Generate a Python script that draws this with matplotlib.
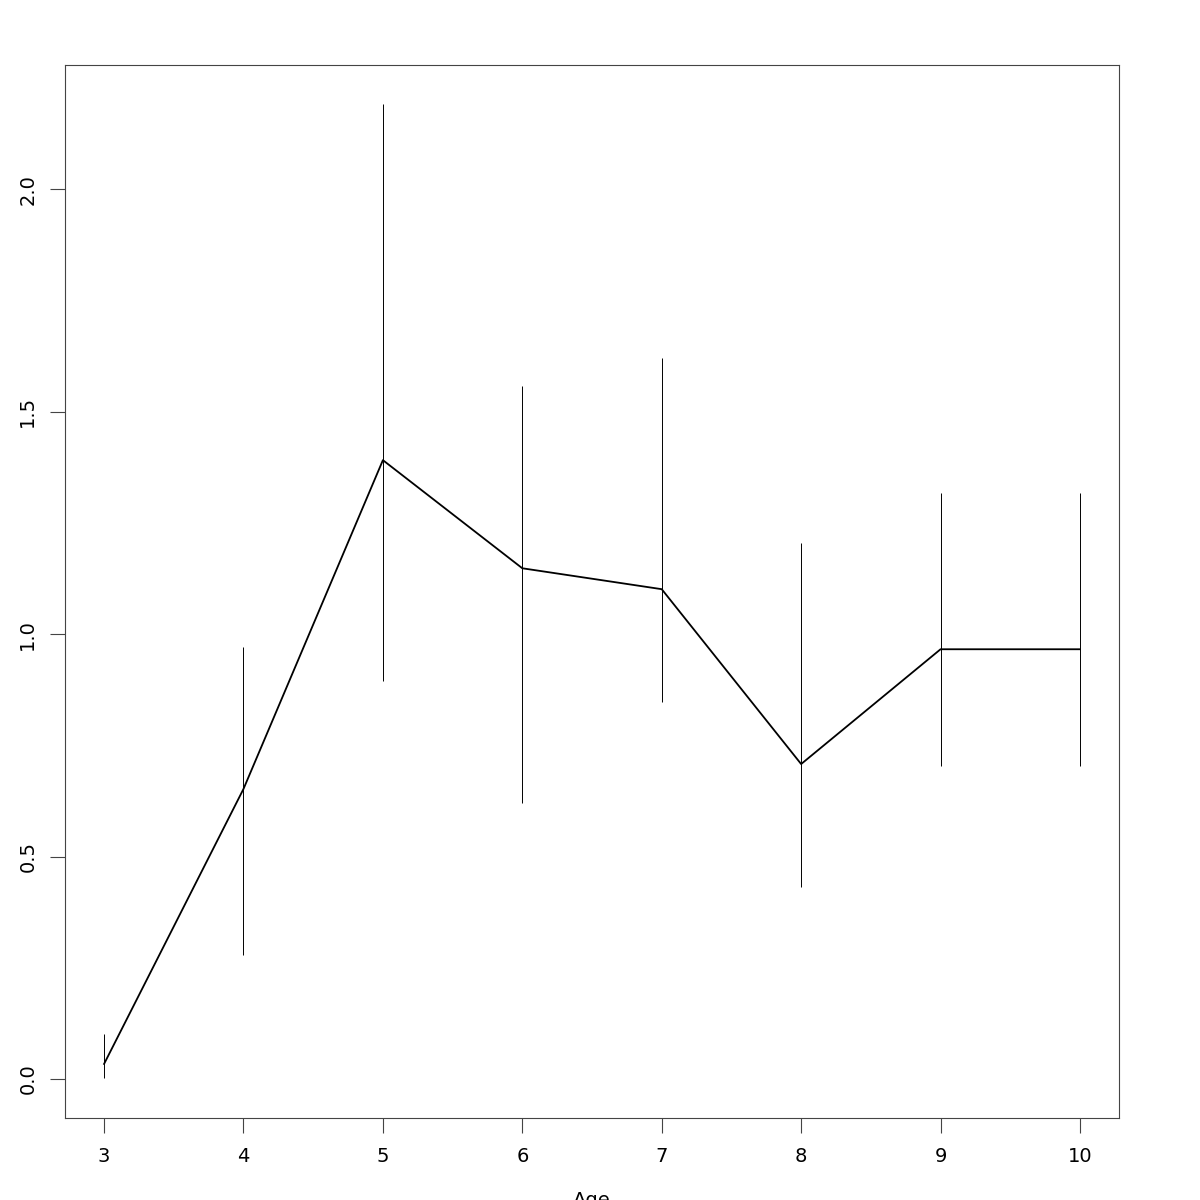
import matplotlib
matplotlib.use("Agg")
import matplotlib.pyplot as plt

# mean per age, with lower / upper ends of the error bars
age = [3, 4, 5, 6, 7, 8, 9, 10]
mean = [0.034, 0.652, 1.391, 1.148, 1.101, 0.708, 0.966, 0.966]
lower = [0.002, 0.279, 0.894, 0.620, 0.847, 0.431, 0.703, 0.703]
upper = [0.101, 0.971, 2.191, 1.557, 1.620, 1.204, 1.317, 1.317]
yticks = [0.0, 0.5, 1.0, 1.5, 2.0]

fig = plt.figure(figsize=(12, 12), dpi=100)
ax = fig.add_axes([0.0542, 0.0683, 0.8783, 0.8775])

# error bars (thin vertical segments)
ax.vlines(age, lower, upper, colors="black", linewidth=0.7)
# mean line
ax.plot(age, mean, color="black", linewidth=1.3)

ax.set_xlim(2.72, 10.28)
ax.set_ylim(-0.0876, 2.279)
ax.set_xticks(age)
ax.set_xticklabels([str(a) for a in age])
ax.set_yticks(yticks)
ax.set_yticklabels(["%.1f" % v for v in yticks], rotation=90, va="center")

for s in ax.spines.values():
    s.set_color("#444444")
    s.set_linewidth(0.8)
ax.tick_params(direction="out", length=11, width=0.8, color="#444444",
               labelsize=14, pad=10)
ax.tick_params(axis="y", pad=9)

ax.set_xlabel("Age", fontsize=14, labelpad=18)

fig.savefig("out.png", dpi=100)
